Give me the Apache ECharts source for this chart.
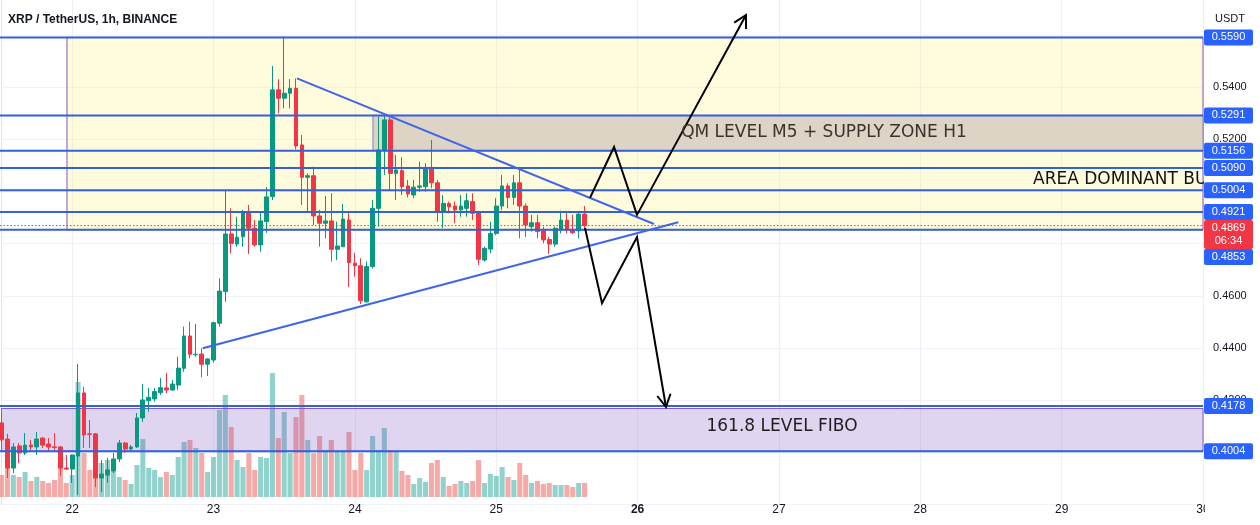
<!DOCTYPE html>
<html><head><meta charset="utf-8">
<script src="https://cdn.jsdelivr.net/npm/echarts@6/dist/echarts.min.js"></script>
<style>html,body{margin:0;padding:0;background:#fff}#c{width:1260px;height:525px}</style>
</head><body><div id="c"></div>
<script>
// ---- time slots: hourly, starting 21st 12:00 ----
const startDay = 21, startHour = 12, slotCount = 205;
const dayTicks = ['22','23','24','25','26','27','28','29','30'];

// ---- candles (hourly) ----
const opens = [0.4113,0.4051,0.3940,0.4025,0.3998,0.4028,0.4021,0.4055,0.4032,0.4021,
0.4021,0.3940,0.3936,0.3986,0.4228,0.4071,0.4071,0.3902,0.3913,0.3929,
0.3975,0.4036,0.4013,0.4021,0.4132,0.4198,0.4205,0.4229,0.4247,0.4239,
0.4258,0.4322,0.4446,0.4374,0.4377,0.4338,0.4354,0.4495,0.4616,0.4837,
0.4798,0.4826,0.4922,0.4859,0.4795,0.4884,0.4980,0.5389,0.5357,0.5376,
0.5395,0.5178,0.5054,0.5060,0.4906,0.4878,0.4887,0.4778,0.4788,0.4890,
0.4725,0.4715,0.4577,0.4712,0.4935,0.5159,0.5274,0.5069,0.5080,0.5021,
0.4986,0.5016,0.5018,0.5092,0.5033,0.4922,0.4954,0.4944,0.4929,0.4935,
0.4961,0.4918,0.4737,0.4779,0.4839,0.4944,0.5021,0.4977,0.5033,0.4944,
0.4865,0.4880,0.4849,0.4816,0.4798,0.4855,0.4890,0.4852,0.4849,0.4913];
const closes = [0.4048,0.3940,0.4021,0.3998,0.4028,0.4021,0.4051,0.4028,0.4021,0.4019,
0.3940,0.3936,0.3990,0.4228,0.4067,0.4069,0.3902,0.3917,0.3933,0.3975,
0.4036,0.4013,0.4021,0.4132,0.4201,0.4211,0.4233,0.4248,0.4239,0.4262,
0.4323,0.4446,0.4376,0.4376,0.4338,0.4358,0.4497,0.4618,0.4837,0.4801,
0.4824,0.4918,0.4859,0.4795,0.4887,0.4979,0.5389,0.5357,0.5376,0.5395,
0.5174,0.5054,0.5060,0.4906,0.4878,0.4887,0.4778,0.4791,0.4894,0.4727,
0.4715,0.4581,0.4712,0.4935,0.5159,0.5274,0.5069,0.5082,0.5018,0.4990,
0.5016,0.5021,0.5092,0.5033,0.4922,0.4954,0.4941,0.4929,0.4944,0.4964,
0.4916,0.4740,0.4782,0.4839,0.4944,0.5021,0.4977,0.5033,0.4944,0.4871,
0.4880,0.4846,0.4814,0.4798,0.4859,0.4890,0.4852,0.4842,0.4913,0.4869];
const lows = [0.4036,0.3902,0.3921,0.3959,0.3990,0.4009,0.3990,0.4017,0.4002,0.4002,
0.3910,0.3933,0.3883,0.3837,0.4017,0.4017,0.3867,0.3848,0.3883,0.3921,
0.3963,0.3998,0.4002,0.4017,0.4117,0.4156,0.4194,0.4220,0.4226,0.4237,
0.4239,0.4309,0.4361,0.4367,0.4288,0.4293,0.4344,0.4482,0.4577,0.4763,
0.4788,0.4788,0.4760,0.4788,0.4769,0.4841,0.4967,0.5299,0.5318,0.5318,
0.5161,0.4948,0.4922,0.4871,0.4788,0.4820,0.4731,0.4737,0.4786,0.4633,
0.4673,0.4569,0.4574,0.4705,0.4865,0.5063,0.5005,0.4967,0.4986,0.4977,
0.4974,0.4999,0.4999,0.5012,0.4884,0.4859,0.4916,0.4878,0.4903,0.4903,
0.4890,0.4718,0.4731,0.4763,0.4833,0.4929,0.4935,0.4948,0.4820,0.4826,
0.4846,0.4820,0.4801,0.4760,0.4788,0.4839,0.4839,0.4837,0.4820,0.4859];
const highs = [0.4128,0.4071,0.4036,0.4036,0.4074,0.4048,0.4078,0.4057,0.4055,0.4074,
0.4025,0.3990,0.3992,0.4339,0.4251,0.4124,0.4074,0.3971,0.3979,0.3998,
0.4048,0.4040,0.4028,0.4151,0.4262,0.4247,0.4247,0.4285,0.4305,0.4277,
0.4367,0.4482,0.4501,0.4492,0.4399,0.4360,0.4501,0.4667,0.5005,0.4935,
0.4903,0.4929,0.4948,0.4890,0.4922,0.5017,0.5480,0.5430,0.5593,0.5430,
0.5433,0.5216,0.5069,0.5095,0.4929,0.4982,0.4993,0.4884,0.4952,0.4918,
0.4765,0.4744,0.4731,0.4967,0.5286,0.5289,0.5286,0.5139,0.5131,0.5044,
0.5044,0.5114,0.5108,0.5197,0.5044,0.4986,0.4961,0.4961,0.4986,0.4993,
0.4993,0.4922,0.4788,0.4884,0.4974,0.5063,0.5031,0.5063,0.5082,0.4954,
0.4910,0.4910,0.4865,0.4826,0.4865,0.4926,0.4918,0.4910,0.4916,0.4944];
const volumes = [22,29,22,20,25,16,20,16,14,17,
32,14,22,115,44,27,34,34,37,29,
20,17,13,32,58,29,27,20,25,22,
40,55,57,49,44,25,40,87,102,70,
37,30,44,27,40,39,124,59,85,44,
80,102,57,44,61,47,57,45,45,65,
27,44,27,61,47,69,47,46,26,22,
13,19,15,34,37,20,11,13,16,14,
16,37,14,23,21,30,20,17,34,22,
14,16,13,14,12,12,12,10,14,14];

// ---- drawn levels / zones / lines (x in hours from start, y in price) ----
const priceLevels = [0.5590,0.5291,0.5156,0.5090,0.5004,0.4921,0.4853,0.4178,0.4004];
const lastPrice = 0.4869;
const countdown = '06:34';
const zoneYellow = [[11.12,0.5590],[204,0.4853]];
const zoneSupply = [[63.07,0.5291],[204,0.5156]];
const zoneFibo = [[0,0.4168],[204,0.4004]];
const trendUpper = [[50.17,0.5433],[110.78,0.4875]];
const trendLower = [[34.16,0.4399],[114.91,0.4882]];
const pathUp = [[99.92,0.4975],[104.0,0.5170],[107.9,0.4910],[126.41,0.5676]];
const pathDown = [[99.07,0.4860],[101.96,0.4572],[107.9,0.4825],[112.82,0.4174]];
const noteTexts = ['QM LEVEL M5 + SUPPLY ZONE H1','AREA DOMINANT BUYER','161.8 LEVEL FIBO'];
const noteAnchors = [[139.65,0.52235],[175.14,0.5047],[132.52,0.4100]];

// ---- build ----
const categories = [];
for (let k = 0; k < slotCount; k++) {
  const h = startHour + k;
  categories.push((startDay + Math.floor(h / 24)) + ' ' + String(h % 24).padStart(2, '0') + ':00');
}
const X_MAX = slotCount - 1;
const isDayStart = (idx) => (idx + startHour) % 24 === 0;

const UP = '#089981', DOWN = '#f23645';
const VOL_UP = 'rgba(38,166,154,0.5)', VOL_DOWN = 'rgba(239,83,80,0.5)';
const LEVEL_BLUE = '#3460d8';
const FONT = '"Liberation Sans", Arial, sans-serif';

const candleData = opens.map((o, i) => [o, closes[i], lows[i], highs[i]]);
const volumeData = volumes.map((v, i) => ({ value: v, itemStyle: { color: closes[i] >= opens[i] ? VOL_UP : VOL_DOWN } }));

const zones = [zoneYellow, zoneSupply, zoneFibo];
const zoneStyles = [
  { fill: 'rgba(255,235,59,0.17)', stroke: '#8e4fb5' },
  { fill: '#ddd4c6', stroke: '#8a7fb8' },
  { fill: 'rgba(126,87,194,0.25)', stroke: '#7e57c2' }
];
const drawings = [
  { pts: trendUpper, color: '#3f66e8', width: 2, arrow: false },
  { pts: trendLower, color: '#3f66e8', width: 2, arrow: false },
  { pts: pathUp, color: '#000', width: 2, arrow: true },
  { pts: pathDown, color: '#000', width: 2, arrow: true }
];
const noteAlign = ['center', 'left', 'center'];
const noteColor = ['#3a342c', '#111', '#1e1e1e'];

// horizontal levels (blue) + last price (red dotted)
const levelValues = priceLevels.concat([lastPrice]);
const levelStyles = priceLevels.map(() => ({ stroke: LEVEL_BLUE, lineWidth: 2, lineDash: null }))
  .concat([{ stroke: '#f23645', lineWidth: 1, lineDash: [1.5, 2] }]);

function renderZone(params, api) {
  const z = zones[params.dataIndex], st = zoneStyles[params.dataIndex];
  const a = api.coord(z[0]), b = api.coord(z[1]);
  return { type: 'rect', shape: { x: Math.min(a[0], b[0]), y: Math.min(a[1], b[1]), width: Math.abs(b[0] - a[0]), height: Math.abs(b[1] - a[1]) },
    style: { fill: st.fill, stroke: st.stroke, lineWidth: 1 } };
}
function renderLevel(params, api) {
  const v = levelValues[params.dataIndex], st = levelStyles[params.dataIndex];
  const a = api.coord([0, v]), b = api.coord([X_MAX, v]);
  return { type: 'line', shape: { x1: a[0] - 1.5, y1: a[1], x2: b[0], y2: b[1] },
    style: { stroke: st.stroke, lineWidth: st.lineWidth, lineDash: st.lineDash } };
}
function renderDrawing(params, api) {
  const d = drawings[params.dataIndex];
  const pts = d.pts.map(p => api.coord(p));
  const children = [{ type: 'polyline', shape: { points: pts }, style: { stroke: d.color, lineWidth: d.width, fill: 'none' } }];
  if (d.arrow) {
    const p1 = pts[pts.length - 1], p0 = pts[pts.length - 2];
    const ang = Math.atan2(p1[1] - p0[1], p1[0] - p0[0]);
    const L = 14, sp = 0.5;
    const w1 = [p1[0] - L * Math.cos(ang - sp), p1[1] - L * Math.sin(ang - sp)];
    const w2 = [p1[0] - L * Math.cos(ang + sp), p1[1] - L * Math.sin(ang + sp)];
    children.push({ type: 'polyline', shape: { points: [w1, p1, w2] }, style: { stroke: d.color, lineWidth: d.width, fill: 'none' } });
  }
  return { type: 'group', children };
}
function renderNote(params, api) {
  const i = params.dataIndex;
  const p = api.coord(noteAnchors[i]);
  return { type: 'text', x: p[0], y: p[1], style: { text: noteTexts[i], font: '17px "DejaVu Sans"', fill: noteColor[i], align: noteAlign[i], verticalAlign: 'middle', textAlign: noteAlign[i], textVerticalAlign: 'middle' } };
}
function layoutTags(api) {
  const tags = priceLevels.map(v => ({ value: v, lines: [v.toFixed(4)], bg: '#2962ff' }));
  tags.push({ value: lastPrice, lines: [lastPrice.toFixed(4), countdown], bg: '#f23645' });
  tags.forEach(t => { t.y = api.coord([0, t.value])[1]; t.h = 16 + (t.lines.length - 1) * 13; t.top = t.y - 8; });
  const sorted = tags.slice().sort((a, b) => a.top - b.top);
  let prevBottom = -Infinity;
  sorted.forEach(t => { if (t.top < prevBottom) t.top = prevBottom; prevBottom = t.top + t.h; });
  return tags;
}
function renderTag(params, api) {
  const t = layoutTags(api)[params.dataIndex];
  const x0 = api.coord([X_MAX, t.value])[0] + 1;
  const children = [{ type: 'rect', shape: { x: x0, y: t.top, width: 49, height: t.h, r: 2 }, style: { fill: t.bg } }];
  t.lines.forEach((s, k) => children.push({ type: 'text', x: x0 + 24.5, y: t.top + 8 + k * 13,
    style: { text: s, font: '11px ' + FONT, fill: '#fff', align: 'center', verticalAlign: 'middle', textAlign: 'center', textVerticalAlign: 'middle' } }));
  return { type: 'group', children };
}

const chart = echarts.init(document.getElementById('c'));
chart.setOption({
  animation: false,
  backgroundColor: '#fff',
  title: [
    { text: 'XRP / TetherUS, 1h, BINANCE', left: 3, top: 9, textStyle: { fontSize: 12, fontWeight: 'bold', color: '#131722', fontFamily: FONT } },
    { text: 'USDT', left: 1210, top: 8, textStyle: { fontSize: 11, fontWeight: 'normal', color: '#131722', fontFamily: FONT } }
  ],
  grid: [
    { left: 1.5, right: 57, top: -17.4, height: 522, outerBoundsMode: 'none', containLabel: false },
    { left: 1.5, right: 57, top: 330, bottom: 28, outerBoundsMode: 'none', containLabel: false }
  ],
  xAxis: [
    { type: 'category', gridIndex: 0, data: categories, boundaryGap: false,
      axisLine: { show: false }, axisTick: { show: false }, axisLabel: { show: false },
      splitLine: { show: true, interval: (idx) => isDayStart(idx), lineStyle: { color: '#eef0f5', width: 1 } } },
    { type: 'category', gridIndex: 1, data: categories, boundaryGap: false,
      axisLine: { show: false }, axisTick: { show: false }, splitLine: { show: false },
      axisLabel: { interval: (idx) => isDayStart(idx), margin: 7, fontSize: 12, color: '#131722', fontFamily: FONT,
        formatter: (val, idx) => { const d = dayTicks[Math.round((idx + startHour) / 24) - 1]; return d === '26' ? '{b|' + d + '}' : d; },
        rich: { b: { fontWeight: 'bold', fontSize: 12, color: '#131722', fontFamily: FONT } } } },
    { type: 'value', gridIndex: 0, min: 0, max: X_MAX, show: false }
  ],
  yAxis: [
    { type: 'value', gridIndex: 0, position: 'right', min: 0.38, max: 0.58, interval: 0.02,
      axisLine: { show: true, lineStyle: { color: '#e0e3eb' } }, axisTick: { show: false },
      axisLabel: { margin: 10, fontSize: 11, color: '#131722', fontFamily: FONT,
        formatter: v => (v < 0.39 || v > 0.57) ? '' : v.toFixed(4) },
      splitLine: { show: true, lineStyle: { color: '#f0f3fa' } } },
    { type: 'value', gridIndex: 1, min: 0, max: 167, show: false }
  ],
  graphic: [
    { type: 'rect', left: 1205, top: 498, shape: { width: 55, height: 27 }, style: { fill: '#fff' }, z: 100 }
  ],
  series: [
    { type: 'bar', name: 'Volume', xAxisIndex: 1, yAxisIndex: 1, data: volumeData, barWidth: '86%', z: 1, silent: true },
    { type: 'custom', name: 'Zones', xAxisIndex: 2, yAxisIndex: 0, data: zones.map((z, i) => [i, 0.5]), renderItem: renderZone, z: 2, silent: true },
    { type: 'candlestick', name: 'XRPUSDT', xAxisIndex: 0, yAxisIndex: 0, data: candleData, barWidth: '72%', z: 3,
      itemStyle: { color: UP, color0: DOWN, borderColor: UP, borderColor0: DOWN, borderWidth: 1 } },
    { type: 'custom', name: 'Levels', xAxisIndex: 2, yAxisIndex: 0, clip: false, data: levelValues.map((v, i) => [i, v]), renderItem: renderLevel, z: 5, silent: true },
    { type: 'custom', name: 'Drawings', xAxisIndex: 2, yAxisIndex: 0, data: drawings.map((d, i) => [i, 0.5]), renderItem: renderDrawing, z: 6, silent: true },
    { type: 'custom', name: 'Notes', xAxisIndex: 2, yAxisIndex: 0, clip: true, data: noteTexts.map((d, i) => [i, 0.5]), renderItem: renderNote, z: 7, silent: true },
    { type: 'custom', name: 'Tags', xAxisIndex: 2, yAxisIndex: 0, clip: false, data: levelValues.map((v, i) => [i, v]), renderItem: renderTag, z: 8, silent: true }
  ]
});
</script>
</body></html>
